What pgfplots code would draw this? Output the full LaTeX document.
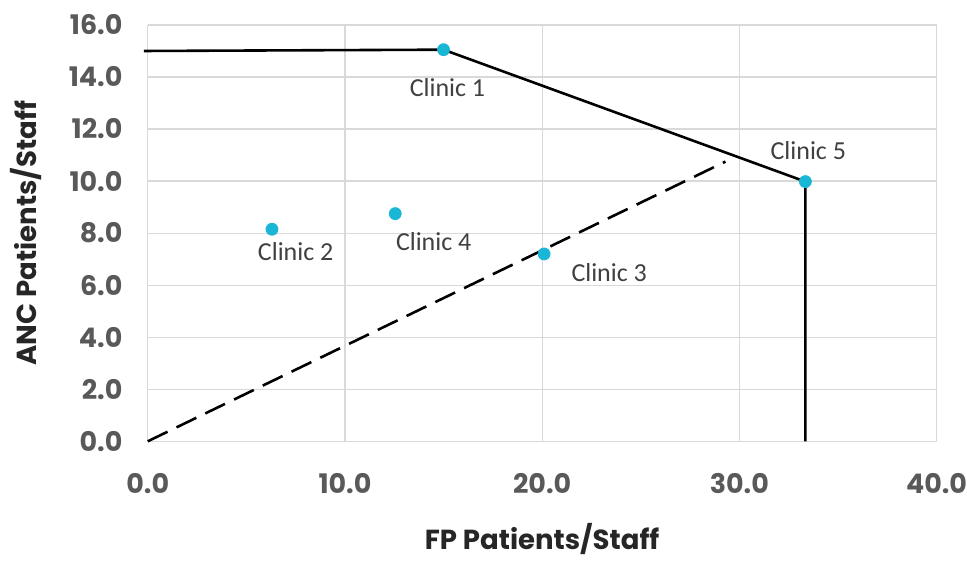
\documentclass[border=0pt]{standalone}
\usepackage{pgfplots}
\pgfplotsset{compat=1.18}
\usepackage{fontspec}
\setmainfont{Carlito}
\newfontfamily\tickfont{Poppins}
\definecolor{tickgray}{HTML}{595959}
\definecolor{labgray}{HTML}{262626}
\definecolor{txtgray}{HTML}{404040}
\definecolor{dotcyan}{HTML}{19B6D6}
\definecolor{gridgray}{HTML}{D9D9D9}
\begin{document}
\begin{tikzpicture}
\begin{axis}[
  name=ax,
  scale only axis,
  width=395pt, height=208.5pt,
  xmin=0, xmax=40, ymin=0, ymax=16,
  xtick distance=10, ytick distance=2,
  grid=major,
  major grid style={gridgray, line width=0.6pt},
  axis line style={draw=none},
  tick style={draw=none},
  /pgf/number format/assume math mode=true,
  /pgf/number format/fixed,
  /pgf/number format/fixed zerofill,
  /pgf/number format/precision=1,
  ticklabel style={font=\tickfont\bfseries\fontsize{13.5}{15}\selectfont, text=tickgray, inner sep=0pt},
  xticklabel style={anchor=center, yshift=-21pt},
  yticklabel style={anchor=east, xshift=-12.5pt},
  xlabel={FP Patients/Staff},
  ylabel={ANC Patients/Staff},
  label style={font=\tickfont\bfseries\fontsize{13.8}{15}\selectfont, text=labgray},
  xlabel style={at={(axis description cs:0.5,0)}, anchor=center, yshift=-49pt},
  ylabel style={at={(axis description cs:0,0.5)}, anchor=center, yshift=61pt},
  clip=false,
]
% clinics
\addplot[dotcyan, only marks, mark=*, mark size=3pt, mark options={draw=none, fill=dotcyan}]
  coordinates {(15.0,15.05) (6.3,8.15) (20.1,7.2) (12.55,8.75) (33.35,9.98)};
% frontier
\addplot[black, line width=1.3pt] coordinates {(-0.2,15.0) (15.0,15.05) (33.35,9.98) (33.35,0)};
% ray through clinic 3
\addplot[black, line width=1.3pt, dash pattern=on 11pt off 5pt] coordinates {(0,0) (29.3,10.75)};
\node[font=\fontsize{13}{15}\selectfont, text=txtgray] at (axis cs:15.2,13.58) {Clinic 1};
\node[font=\fontsize{13}{15}\selectfont, text=txtgray] at (axis cs:7.5,7.29) {Clinic 2};
\node[font=\fontsize{13}{15}\selectfont, text=txtgray] at (axis cs:14.5,7.67) {Clinic 4};
\node[font=\fontsize{13}{15}\selectfont, text=txtgray] at (axis cs:23.4,6.48) {Clinic 3};
\node[font=\fontsize{13}{15}\selectfont, text=txtgray] at (axis cs:33.5,11.17) {Clinic 5};
\end{axis}
\path (ax.south west) ++(-74pt,-57.5pt);
\path (ax.north east) ++(14.5pt,12.5pt);
\end{tikzpicture}
\end{document}
